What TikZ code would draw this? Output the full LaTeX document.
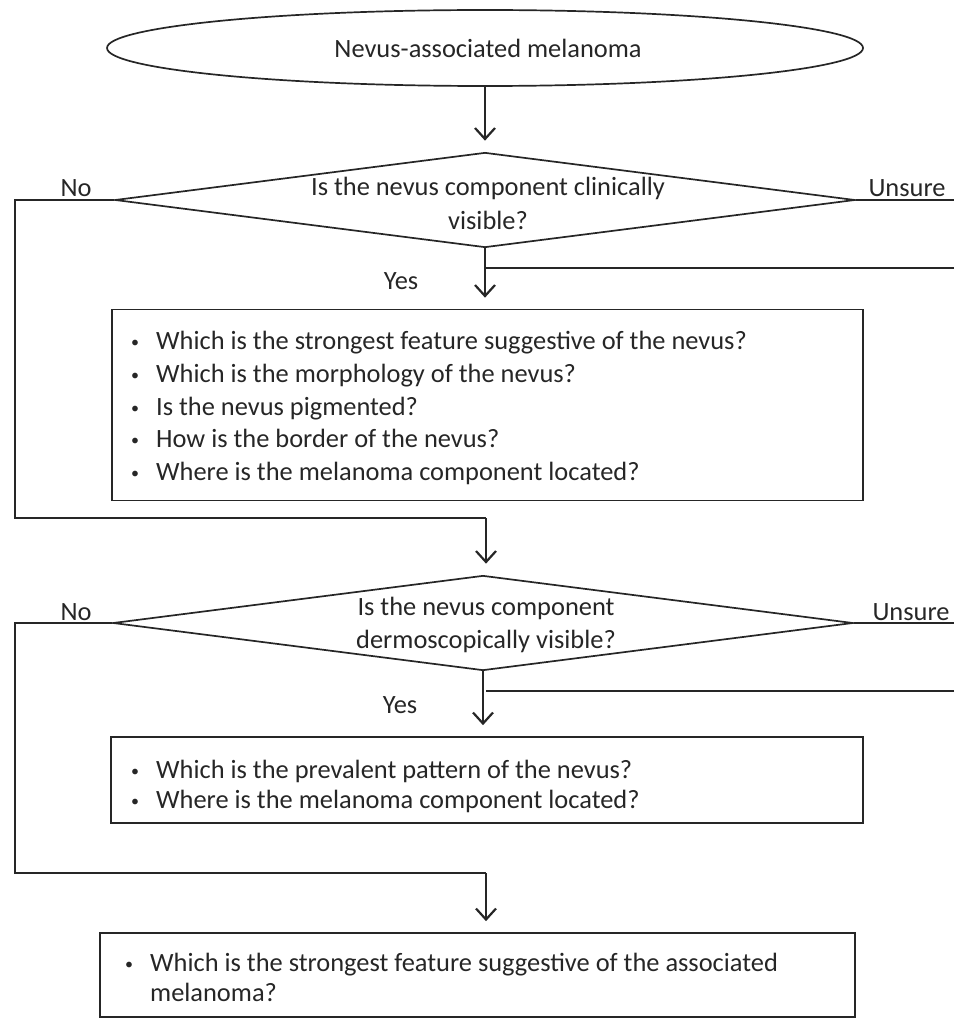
\documentclass[tikz,border=0pt]{standalone}
\usepackage{fontspec}
\setmainfont{Carlito}
\usetikzlibrary{shapes.geometric,arrows.meta}
\begin{document}
\begin{tikzpicture}[x=1pt,y=-1pt,
  every node/.style={font=\fontsize{26.4}{31}\selectfont, text=black!85},
  ln/.style={line width=1.7pt, draw=black!85},
  arr/.style={ln, -{Straight Barb[length=11pt,width=20pt,line width=2.2pt]}, shorten >=11pt},
  term/.style={ellipse, ln, minimum width=756pt, minimum height=76pt, inner sep=0pt},
  dia/.style={diamond, ln, minimum width=740pt, minimum height=95pt, inner sep=0pt},
  qbox/.style={rectangle, ln, inner sep=0pt},
  lbl/.style={inner sep=0pt}
]
\useasboundingbox (0,0) rectangle (954,1019);
\newcommand{\bul}{\makebox[25pt][l]{\raisebox{2pt}{\fontsize{16}{16}\selectfont\textbullet}}}

% start ellipse
\node[term] (start) at (485,48) {};
\node[lbl] (starttxt) at (488,48) {Nevus-associated melanoma};

% diamond 1
\node[dia] (d1) at (485,200) {};
\node[lbl, align=center, font=\fontsize{26.4}{34}\selectfont] (d1txt) at (488,203) {Is the nevus component clinically\\visible?};

% box 1
\node[qbox, minimum width=751pt, minimum height=191pt] (b1) at (487.5,405) {};
\node[lbl, anchor=north west, align=left, font=\fontsize{26.4}{32.8}\selectfont] (b1txt) at (131,331)
 {\bul Which is the strongest feature suggestive of the nevus?\\
  \bul Which is the morphology of the nevus?\\
  \bul Is the nevus pigmented?\\
  \bul How is the border of the nevus?\\
  \bul Where is the melanoma component located?};

% diamond 2
\node[dia] (d2) at (483,623) {};
\node[lbl, align=center, font=\fontsize{26.4}{33}\selectfont] (d2txt) at (486,625) {Is the nevus component\\dermoscopically visible?};

% box 2
\node[qbox, minimum width=752pt, minimum height=86pt] (b2) at (487,780) {};
\node[lbl, anchor=north west, align=left, font=\fontsize{26.4}{30}\selectfont] (b2txt) at (131,760)
 {\bul Which is the prevalent pattern of the nevus?\\
  \bul Where is the melanoma component located?};

% box 3
\node[qbox, minimum width=755pt, minimum height=84pt] (b3) at (477.5,975) {};
\node[lbl, anchor=north west, align=left, font=\fontsize{26.4}{30}\selectfont] (b3txt) at (125,953)
 {\bul Which is the strongest feature suggestive of the associated\\
  \hspace*{25pt}melanoma?};

% helper coordinates
\coordinate (lft) at (15,0);
\coordinate (rgt) at (954,0);
\coordinate (ret1) at (486,268);
\coordinate (ret2) at (486,691);
\coordinate (j1) at (486,518);
\coordinate (j2) at (486,873);

% arrows
\draw[arr] (start.south) -- (d1.north);
\draw[arr] (d1.south) -- (b1.north -| d1.south);
\draw[arr] (j1) -- (j1 |- d2.north);
\draw[arr] (d2.south) -- (d2.south |- b2.north);
\draw[arr] (j2) -- (j2 |- b3.north);

% No branches
\draw[ln] (d1.west) -- (d1.west -| lft) |- (j1);
\draw[ln] (d2.west) -- (d2.west -| lft) |- (j2);
% Unsure branches
\draw[ln] (d1.east) -- (d1.east -| rgt);
\draw[ln] (rgt |- ret1) -- (ret1);
\draw[ln] (d2.east) -- (d2.east -| rgt);
\draw[ln] (rgt |- ret2) -- (ret2);

% labels
\node[lbl] (no1) at (76,188) {No};
\node[lbl] (uns1) at (907,188) {Unsure};
\node[lbl] (yes1) at (401,281) {Yes};
\node[lbl] (no2) at (76,612) {No};
\node[lbl] (uns2) at (911,612) {Unsure};
\node[lbl] (yes2) at (400,705) {Yes};
\end{tikzpicture}
\end{document}
